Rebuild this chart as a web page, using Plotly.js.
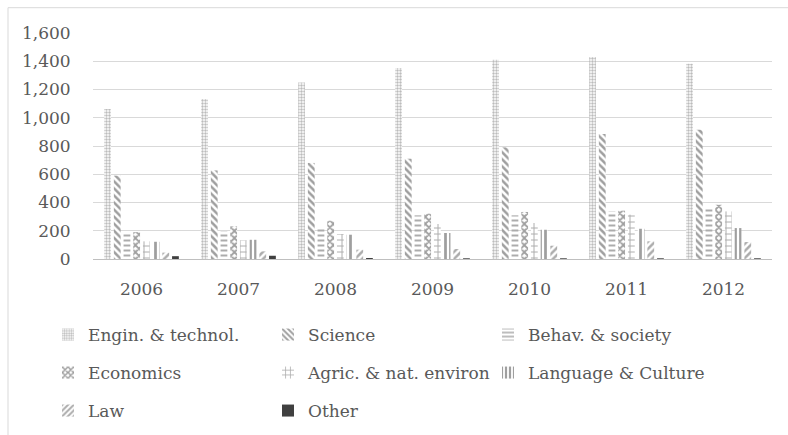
<!DOCTYPE html>
<html>
<head>
<meta charset="utf-8">
<script src="https://cdn.plot.ly/plotly-3.0.1.min.js"></script>
<style>html,body{margin:0;padding:0;background:#fff}#chart{width:788px;height:435px}</style>
</head>
<body>
<div id="chart"></div>
<script>
const years = ["2006","2007","2008","2009","2010","2011","2012"];
const seriesNames = ["Engin. & technol.","Science","Behav. & society","Economics","Agric. & nat. environ","Language & Culture","Law","Other"];
const engin    = [1062,1133,1250,1352,1411,1430,1383];
const science  = [590,627,680,710,790,885,915];
const behav    = [190,195,214,309,309,337,361];
const economics= [190,231,271,321,333,342,384];
const agric    = [125,132,177,248,255,314,337];
const language = [122,136,172,184,207,214,219];
const law      = [45,54,66,71,94,125,120];
const other    = [20,23,7,5,5,5,5];
const allSeries = [engin,science,behav,economics,agric,language,law,other];

const styles = [
  {shape:".", fg:"#7a7a7a", size:3, sol:0.5},
  {shape:"\\", fg:"#404040", size:5, sol:0.5},
  {shape:"-", fg:"#595959", size:5, sol:0.4},
  {shape:"x", fg:"#404040", size:5, sol:0.6},
  {shape:"+", fg:"#595959", size:6, sol:0.3},
  {shape:"|", fg:"#404040", size:5, sol:0.55},
  {shape:"/", fg:"#595959", size:5, sol:0.5},
  {shape:"", fg:"#404040", size:6, sol:1}
];
const legendIds = ["legend","legend","legend","legend2","legend2","legend2","legend3","legend3"];

const traces = allSeries.map((vals,i)=>{
  const s = styles[i];
  const marker = s.shape === "" ? {color:s.fg, line:{width:0}} :
    {color:"#ffffff", line:{width:0}, pattern:{shape:s.shape, fgcolor:s.fg, bgcolor:"#ffffff", size:s.size, solidity:s.sol, fillmode:"overlay"}};
  return {type:"bar", name:seriesNames[i], x:years, y:vals, marker:marker, legend:legendIds[i], hoverinfo:"x+y+name"};
});

const font = {family:"DejaVu Serif", size:17, color:"#595959"};
const legendBase = {orientation:"h", xref:"container", yref:"container", x:48/788, xanchor:"left", yanchor:"middle",
  entrywidth:175, entrywidthmode:"pixels", font:font, bgcolor:"rgba(0,0,0,0)", borderwidth:0, traceorder:"normal"};

const layout = {
  width:788, height:435,
  margin:{l:93, r:16, t:33.3, b:175.7, pad:0},
  paper_bgcolor:"#ffffff", plot_bgcolor:"#ffffff",
  font:font,
  barmode:"group", bargap:0.2, bargroupgap:0.3,
  showlegend:true,
  legend:Object.assign({}, legendBase, {y:1-335/435}),
  legend2:Object.assign({}, legendBase, {y:1-373/435}),
  legend3:Object.assign({}, legendBase, {y:1-411/435}),
  xaxis:{type:"category", showgrid:false, showline:true, linecolor:"#bfbfbf", linewidth:1.3,
    ticks:"outside", ticklen:14, tickcolor:"rgba(0,0,0,0)", tickfont:font, zeroline:false},
  yaxis:{range:[0,1600], dtick:200, tickformat:",d", showgrid:true, gridcolor:"#d9d9d9", gridwidth:1,
    zeroline:false, showline:false, ticks:"outside", ticklen:18, tickcolor:"rgba(0,0,0,0)", tickfont:font},
  shapes:[{type:"rect", xref:"paper", yref:"paper", x0:(8-93)/679, x1:1.3, y0:-1, y1:(259.3-8)/226,
    line:{color:"#d9d9d9", width:1}, fillcolor:"rgba(0,0,0,0)", layer:"below"}]
};

Plotly.newPlot("chart", traces, layout, {displayModeBar:false, staticPlot:true});
</script>
</body>
</html>
